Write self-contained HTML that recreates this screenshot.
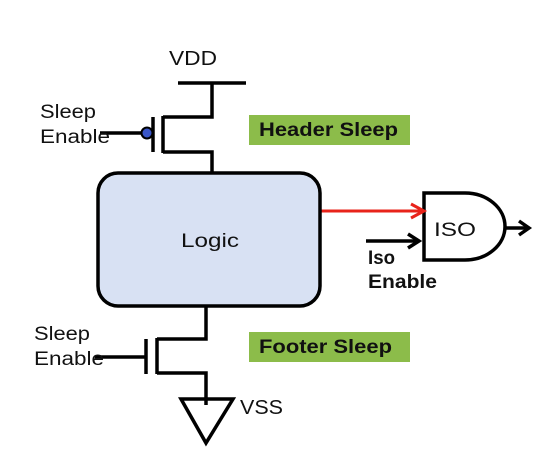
<!DOCTYPE html>
<html><head><style>
body{margin:0;background:#fff;width:560px;height:453px;overflow:hidden}
svg{display:block}
text{font-family:"Liberation Sans",sans-serif;fill:#111}
</style></head><body>
<svg width="560" height="453" viewBox="0 0 560 453">
<g stroke="#000" stroke-width="3.5" fill="none">
<line x1="178" y1="83" x2="246" y2="83"/>
<polyline points="212,83 212,117 163,117"/>
<line x1="163" y1="116" x2="163" y2="153"/>
<polyline points="163,152 212,152 212,173"/>
<line x1="153" y1="117" x2="153" y2="152"/>
<line x1="100" y1="133" x2="142" y2="133"/>
<polyline points="206,306 206,339 157,339"/>
<line x1="157" y1="338" x2="157" y2="374"/>
<polyline points="157,373 206,373 206,405"/>
<line x1="146" y1="339" x2="146" y2="374"/>
<line x1="95" y1="357" x2="146" y2="357"/>
<polygon points="181,399 233,399 206,443"/>
<path d="M424,193 L465,193 A40,33.5 0 0 1 465,260 L424,260 Z"/>
<line x1="366" y1="241" x2="418" y2="241"/>
<polyline points="408,234 419,241 408,248"/>
<line x1="505" y1="228" x2="528" y2="228"/>
<polyline points="519,221 529,228 519,235"/>
</g>
<circle cx="147" cy="133" r="5.5" fill="#3a56c8" stroke="#000" stroke-width="2"/>
<line x1="320" y1="211" x2="423" y2="211" stroke="#e8231a" stroke-width="3"/>
<polyline points="411,204 424,211 411,218" stroke="#e8231a" stroke-width="3" fill="none"/>
<rect x="98" y="173" width="222" height="133" rx="20" fill="#d8e1f3" stroke="#000" stroke-width="3.5"/>
<rect x="249" y="115" width="161" height="30" fill="#8cbc4a"/>
<rect x="249" y="332" width="161" height="30" fill="#8cbc4a"/>
<text x="169" y="65" font-size="20" textLength="48" lengthAdjust="spacingAndGlyphs">VDD</text>
<text x="40" y="118" font-size="19" textLength="56" lengthAdjust="spacingAndGlyphs">Sleep</text>
<text x="40" y="143" font-size="19" textLength="70" lengthAdjust="spacingAndGlyphs">Enable</text>
<text x="34" y="340" font-size="19" textLength="56" lengthAdjust="spacingAndGlyphs">Sleep</text>
<text x="34" y="365" font-size="19" textLength="70" lengthAdjust="spacingAndGlyphs">Enable</text>
<text x="259" y="136" font-size="19" font-weight="bold" textLength="139" lengthAdjust="spacingAndGlyphs">Header Sleep</text>
<text x="259" y="353" font-size="19" font-weight="bold" textLength="133" lengthAdjust="spacingAndGlyphs">Footer Sleep</text>
<text x="181" y="247" font-size="19" textLength="58" lengthAdjust="spacingAndGlyphs">Logic</text>
<text x="434" y="236" font-size="19" textLength="42" lengthAdjust="spacingAndGlyphs">ISO</text>
<text x="368" y="264" font-size="19" font-weight="bold" textLength="27" lengthAdjust="spacingAndGlyphs">Iso</text>
<text x="368" y="288" font-size="19" font-weight="bold" textLength="69" lengthAdjust="spacingAndGlyphs">Enable</text>
<text x="240" y="414" font-size="20" textLength="43" lengthAdjust="spacingAndGlyphs">VSS</text>
</svg>
</body></html>
